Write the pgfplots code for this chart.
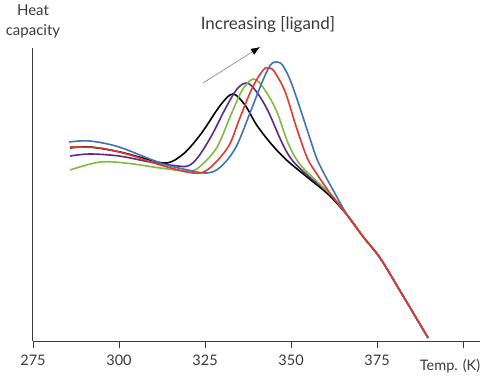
\documentclass[border=0pt]{standalone}
\usepackage{pgfplots}
\pgfplotsset{compat=1.18}
\usepackage{fontspec}
\setmainfont{Lato}
\usetikzlibrary{arrows.meta}
\definecolor{cblue}{HTML}{3E74B3}
\definecolor{cred}{HTML}{E03A2E}
\definecolor{cgreen}{HTML}{7DBB42}
\definecolor{cpurple}{HTML}{5E2A84}
\definecolor{txt}{HTML}{3A3A3A}
\begin{document}
\begin{tikzpicture}
\useasboundingbox (-33pt,-34pt) rectangle (457pt,341pt);
\begin{axis}[
  at={(0,0)}, anchor=south west,
  scale only axis, width=447pt, height=293pt,
  xmin=275, xmax=404.9, ymin=0, ymax=293,
  axis lines=left, axis line style={-, draw=txt, line width=1pt},
  ytick=\empty,
  xtick={275,300,325,350,375,400},
  xticklabels={275,300,325,350,375,{}},
  tick align=outside, major tick length=7pt,
  tick style={draw=txt, line width=0.9pt},
  xticklabel style={font=\fontsize{14.5}{16}\selectfont, text=txt, yshift=-3pt},
  /pgf/number format/assume math mode=true,
  clip=false,
  every axis plot/.append style={smooth, tension=0.55, line width=1.6pt, no markers},
]
\addplot[black] coordinates {
(285.76,193) (291.5,194) (300.3,189) (308,182) (314,178) (319,188) (324,208) (329.5,236) (333.1,247) (336.6,236) (340,216) (344.5,196) (349,180) (355,163) (361,146) (366.5,125) (371,104) (375.87,83) (381.69,50) (389.83,3)};
\addplot[cpurple] coordinates {
(285.76,185) (291.5,187) (300,185) (309,179) (316,175.5) (320,175) (323,184) (327,206) (331,233) (334.3,252) (337.2,258) (340,249) (343.3,230) (347.4,198) (350.5,180) (356,162) (361,148) (366.5,125) (371,104) (375.87,83) (381.69,50) (389.83,3)};
\addplot[cgreen] coordinates {
(285.76,171) (294.5,179) (303,177.5) (312,173) (320.6,170) (324,176) (328.5,194) (332.5,226) (336,252) (339.2,262) (342.4,251) (345.9,229) (349.1,198) (352.5,177) (358,158) (362.5,143) (366.5,125) (371,104) (375.87,83) (381.69,50) (389.83,3)};
\addplot[cblue] coordinates {
(285.47,199) (291.5,200) (300,194) (312,178) (320,171) (325.6,168) (329.5,174) (334,194) (338.5,232) (341.6,259) (344,276) (345.9,279) (347.7,275) (350.3,256) (354.4,214) (357.3,184) (359.5,168) (363,146) (366.5,125) (371,104) (375.87,83) (381.69,50) (389.83,3)};
\addplot[cred] coordinates {
(285.76,194) (294.5,193) (303.2,186) (312,176) (321.5,168) (326,172) (331.7,194) (335,222) (338.7,253) (341.9,271) (343.3,273) (345,270) (348.3,249) (351.5,214) (354.7,183) (357.5,167) (361.5,147) (366.5,125) (371,104) (375.87,83) (381.69,50) (389.83,3)};
\end{axis}
\node[text=txt, font=\fontsize{14.5}{16}\selectfont] at (417pt,-25pt) {Temp. (K)};
\node[text=txt, font=\fontsize{15}{20}\selectfont, align=center] at (0pt,319.5pt) {Heat\\capacity};
\node[text=txt, font=\fontsize{17}{20}\selectfont] at (235pt,316pt) {Increasing [ligand]};
\draw[gray, line width=0.6pt, -{Latex[length=9pt,width=7pt,black]}] (170pt,258pt) -- (227pt,294pt);
\end{tikzpicture}
\end{document}
